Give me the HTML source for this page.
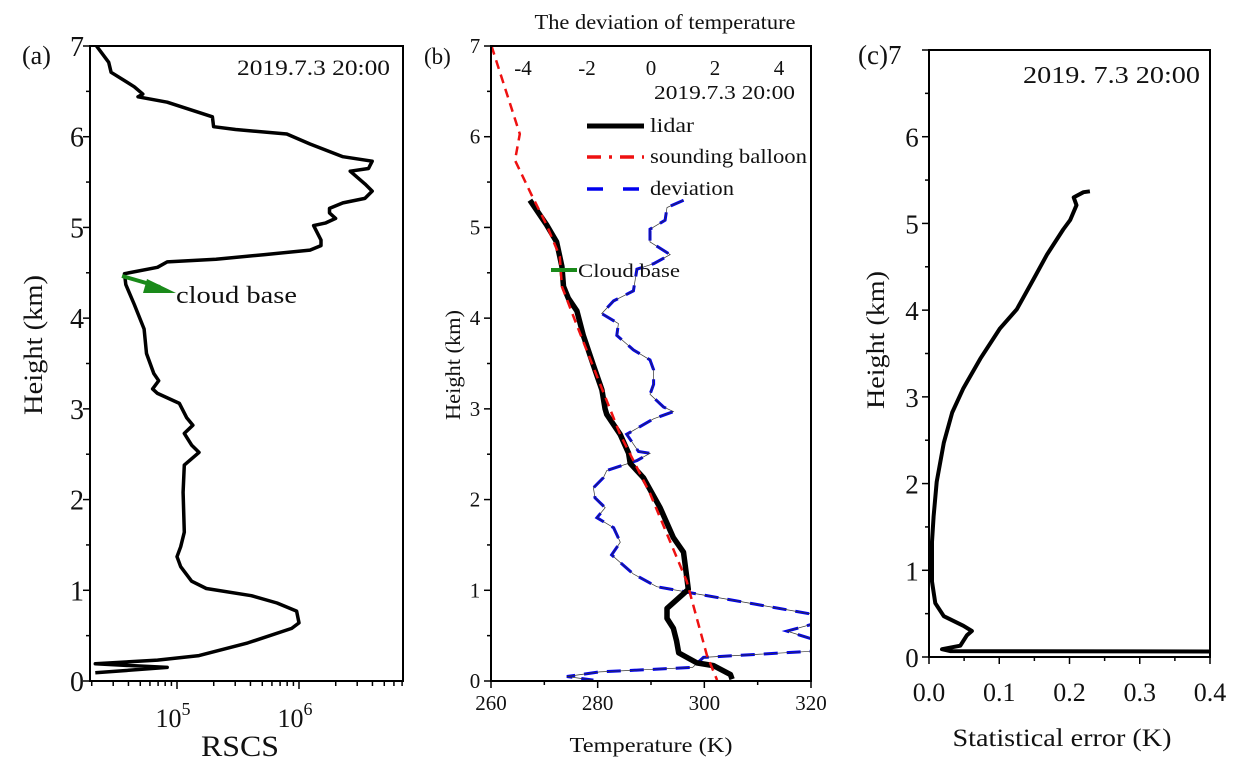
<!DOCTYPE html>
<html><head><meta charset="utf-8"><style>
body{margin:0;background:#fff;}
svg{display:block;font-family:"Liberation Serif",serif;}
</style></head><body>
<svg id="chart" width="1237" height="773" viewBox="0 0 1237 773"></svg>
<script>
// ---------- data ----------
// Panel (a): RSCS (log10) vs height (km)
const rscsLog = [4.34,4.44,4.46,4.65,4.72,4.68,4.92,5.29,5.30,5.48,5.90,6.09,6.36,6.60,6.57,6.42,6.54,6.60,6.54,6.36,6.25,6.25,6.30,6.22,6.12,6.18,6.18,6.09,5.72,5.32,4.92,4.84,4.57,4.58,4.65,4.73,4.75,4.81,4.85,4.80,4.84,5.02,5.08,5.13,5.06,5.12,5.18,5.06,5.05,5.06,5.03,5.00,5.03,5.12,5.24,5.61,5.82,5.98,6.00,5.94,5.58,5.18,4.84,4.33,4.92,4.33];
const rscsH = [7.0,6.82,6.71,6.55,6.47,6.44,6.38,6.22,6.11,6.08,6.03,5.92,5.78,5.73,5.65,5.62,5.48,5.40,5.32,5.27,5.21,5.16,5.10,5.05,5.02,4.86,4.80,4.75,4.70,4.65,4.62,4.56,4.49,4.37,4.15,3.88,3.61,3.39,3.31,3.22,3.17,3.06,2.90,2.82,2.73,2.60,2.52,2.38,2.08,1.64,1.48,1.37,1.26,1.10,1.02,0.94,0.86,0.77,0.64,0.58,0.42,0.28,0.23,0.19,0.15,0.09];
// Panel (b)
const lidarT = [267.3,270.4,272.3,273.3,273.6,274.5,276.1,277.3,279.2,280.8,281.4,281.7,284.2,285.8,286.1,288.6,291.7,294.2,296.1,296.7,297.0,295.5,293.0,293.0,294.2,294.8,295.2,298.6,301.7,304.9,305.2];
const lidarH = [5.30,5.03,4.84,4.57,4.35,4.22,4.08,3.81,3.48,3.21,3.00,2.94,2.72,2.51,2.40,2.24,1.91,1.58,1.42,1.15,1.01,0.93,0.80,0.69,0.58,0.44,0.31,0.20,0.17,0.07,0.02];
const balloonT = [260.1,265.4,264.5,267.6,270.4,272.9,273.3,276.1,279.8,284.2,289.8,296.7,300.5,302.4];
const balloonH = [7.0,6.03,5.74,5.36,5.03,4.68,4.35,3.92,3.37,2.72,2.07,1.10,0.28,0.01];
const devT = [1.02,0.50,0.44,-0.03,-0.03,0.60,0.08,-0.44,-0.55,-1.17,-1.54,-1.02,-1.07,-0.55,-0.03,0.08,0.08,-0.03,0.39,0.70,0.08,-0.76,-0.39,-0.03,-0.44,-1.38,-1.49,-1.80,-1.75,-1.43,-1.69,-1.17,-0.96,-1.23,-0.55,0.18,1.43,3.21,4.98,5.6,4.25,5.6,5.6,1.64,1.3,-1.6,-2.63,-1.8];
const devH = [5.30,5.22,5.08,4.98,4.84,4.70,4.60,4.54,4.30,4.19,4.05,3.94,3.81,3.65,3.54,3.43,3.27,3.16,3.02,2.97,2.89,2.72,2.53,2.51,2.43,2.32,2.24,2.13,2.02,1.91,1.80,1.69,1.53,1.39,1.18,1.04,0.96,0.85,0.74,0.68,0.55,0.40,0.34,0.26,0.15,0.10,0.05,0.01];
// Panel (c)
const errX = [0.40,0.03,0.0185,0.0445,0.054,0.061,0.049,0.021,0.009,0.0043,0.0043,0.0066,0.011,0.021,0.033,0.049,0.073,0.101,0.125,0.149,0.168,0.191,0.201,0.210,0.206,0.220,0.229];
const errH = [0.063,0.068,0.09,0.13,0.25,0.30,0.36,0.47,0.62,0.87,1.33,1.62,2.02,2.47,2.82,3.10,3.44,3.79,4.01,4.36,4.64,4.93,5.04,5.21,5.30,5.36,5.37];
const heightTicks = [0,1,2,3,4,5,6,7];
const tempTicks = [260,280,300,320];
const devTicks = [-4,-2,0,2,4];
const errTicks = [0.0,0.1,0.2,0.3,0.4];

// ---------- helpers ----------
const svg = document.getElementById('chart');
const NS = 'http://www.w3.org/2000/svg';
function mk(tag, attrs, parent){const e=document.createElementNS(NS,tag);for(const k in attrs)e.setAttribute(k,attrs[k]);(parent||svg).appendChild(e);return e;}
function txt(s,x,y,size,anchor,parent,len){const t=mk('text',{x:x,y:y,'font-size':size,'text-anchor':anchor||'middle',fill:'#111'},parent);t.textContent=s;if(len){t.setAttribute('textLength',len);t.setAttribute('lengthAdjust','spacingAndGlyphs');}return t;}
function pathFrom(xs,ys,fx,fy){return xs.map((v,i)=>(i?'L':'M')+fx(v).toFixed(1)+','+fy(ys[i]).toFixed(1)).join(' ');}

// ---------- Panel A ----------
const A={l:90,r:403,t:46,b:681};
const ayA=h=>A.b-(A.b-A.t)*h/7;
const axA=lg=>177+(lg-5)*122;
const gA=mk('g',{});


const clipA=mk('clipPath',{id:'ca'},gA);mk('rect',{x:A.l,y:A.t,width:A.r-A.l,height:A.b-A.t},clipA);
let pa=mk('path',{d:pathFrom(rscsLog,rscsH,axA,ayA),fill:'none',stroke:'#000','stroke-width':3.5,'stroke-linejoin':'round','clip-path':'url(#ca)'},gA);


mk('rect',{x:A.l,y:A.t,width:A.r-A.l,height:A.b-A.t,fill:'none',stroke:'#000','stroke-width':2},gA);
for(let h=0;h<=7;h+=0.5){const y=ayA(h);mk('line',{x1:A.l-(h%1?4:7),x2:A.l,y1:y,y2:y,stroke:'#000','stroke-width':1.5},gA);}
heightTicks.forEach(h=>{const t=txt(String(h),A.l-13,ayA(h)+10,28,'middle',gA);});
for(let d=4;d<=6;d++)for(let m=1;m<10;m++){const lg=d+Math.log10(m);const x=axA(lg);if(x<A.l||x>A.r)continue;mk('line',{x1:x,x2:x,y1:A.b,y2:A.b+(m===1?8:5),stroke:'#000','stroke-width':1.5},gA);}
[5,6].forEach(d=>{const t=mk('text',{x:axA(d)-4,y:727,'font-size':26,'text-anchor':'middle',fill:'#111'},gA);t.textContent='10';const s=mk('tspan',{dy:-12,'font-size':18},t);s.textContent=String(d);});
let ta=txt('RSCS',240,756,30,'middle',gA,78);
let tya=txt('Height (km)',0,0,26,'middle',gA,140);tya.setAttribute('transform','translate(42,345) rotate(-90)');
let la=txt('(a)',22,64,26,'start',gA);
let da=txt('2019.7.3 20:00',237,75,22,'start',gA,153);
// cloud base arrow
mk('line',{x1:122,y1:276,x2:160,y2:287,stroke:'#1a8a1a','stroke-width':4},gA);
mk('polygon',{points:'176,293 147,279 143,293',fill:'#1a8a1a'},gA);
let cb=txt('cloud base',176,303,24,'start',gA,121);

// ---------- Panel B ----------
const B={l:491,r:811,t:46,b:681};
const ayB=h=>B.b-(B.b-B.t)*h/7;
const axB=T=>B.l+(T-260)*(B.r-B.l)/60;
const axD=d=>B.l+(d+5)*(B.r-B.l)/10;
const gB=mk('g',{});


const clipB=mk('clipPath',{id:'cb'},gB);mk('rect',{x:B.l,y:B.t,width:B.r-B.l,height:B.b-B.t},clipB);
let dv=mk('path',{d:pathFrom(devT,devH,axD,ayB),fill:'none',stroke:'#0000ee','stroke-width':3,'stroke-dasharray':'14 9','clip-path':'url(#cb)'},gB);


mk('path',{d:pathFrom(devT,devH,axD,ayB),fill:'none',stroke:'#333','stroke-width':0.7,'clip-path':'url(#cb)'},gB);
let li=mk('path',{d:pathFrom(lidarT,lidarH,axB,ayB),fill:'none',stroke:'#000','stroke-width':5.5,'stroke-linejoin':'round','clip-path':'url(#cb)'},gB);


let bl=mk('path',{d:pathFrom(balloonT,balloonH,axB,ayB),fill:'none',stroke:'#ee1111','stroke-width':2.5,'stroke-dasharray':'9 6','clip-path':'url(#cb)'},gB);


mk('rect',{x:B.l,y:B.t,width:B.r-B.l,height:B.b-B.t,fill:'none',stroke:'#000','stroke-width':2},gB);
for(let h=0;h<=7;h+=0.5){const y=ayB(h);mk('line',{x1:B.l-(h%1?4:7),x2:B.l,y1:y,y2:y,stroke:'#000','stroke-width':1.5},gB);}
heightTicks.forEach(h=>{const t=txt(String(h),B.l-16,ayB(h)+7,21,'middle',gB);});
for(let T=260;T<=320;T+=10){const x=axB(T);mk('line',{x1:x,x2:x,y1:B.b,y2:B.b+(T%20?4:7),stroke:'#000','stroke-width':1.5},gB);}
tempTicks.forEach(T=>{const t=txt(String(T),axB(T),710,21,'middle',gB);});
devTicks.forEach(d=>{const t=txt(String(d),axD(d),75,21,'middle',gB);});
let tb=txt('Temperature  (K)',651,752,21,'middle',gB,163);
let ttb=txt('The deviation of temperature',665,29,21,'middle',gB,261);
let tyb=txt('Height (km)',0,0,21,'middle',gB,110);tyb.setAttribute('transform','translate(460,365) rotate(-90)');
let lb=txt('(b)',424,64,23,'start',gB);
let db=txt('2019.7.3 20:00',654,99,20,'start',gB,141);
// legend
const lg=mk('g',{},gB);
mk('line',{x1:587,x2:644,y1:126,y2:126,stroke:'#000','stroke-width':5},lg);
mk('line',{x1:587,x2:644,y1:157,y2:157,stroke:'#ee1111','stroke-width':3.5,'stroke-dasharray':'14 8 3 8'},lg);
mk('line',{x1:587,x2:644,y1:189,y2:189,stroke:'#0000ee','stroke-width':3.5,'stroke-dasharray':'16 20'},lg);
[['lidar',132,44],['sounding balloon',163,157],['deviation',195,84]].forEach(([s,y,w])=>{const t=txt(s,650,y,20,'start',lg,w);});
mk('line',{x1:551,x2:577,y1:270,y2:270,stroke:'#1a8a1a','stroke-width':4},gB);
let cb2=txt('Cloud base',578,277,19,'start',gB,102);

// ---------- Panel C ----------
const C={l:929,r:1210,t:50,b:657};
const ayC=h=>C.b-(C.b-C.t)*h/7;
const axC=v=>C.l+v*(C.r-C.l)/0.4;
const gC=mk('g',{});


const clipC=mk('clipPath',{id:'cc'},gC);mk('rect',{x:C.l,y:C.t,width:C.r-C.l,height:C.b-C.t},clipC);
let ec=mk('path',{d:pathFrom(errX,errH,axC,ayC),fill:'none',stroke:'#000','stroke-width':4,'stroke-linejoin':'round','clip-path':'url(#cc)'},gC);


mk('rect',{x:C.l,y:C.t,width:C.r-C.l,height:C.b-C.t,fill:'none',stroke:'#000','stroke-width':2},gC);
for(let h=0;h<=7;h+=0.5){const y=ayC(h);mk('line',{x1:C.l-(h%1?4:7),x2:C.l,y1:y,y2:y,stroke:'#000','stroke-width':1.5},gC);}
heightTicks.forEach(h=>{if(h===7)return;const t=txt(String(h),C.l-17,ayC(h)+10,27,'middle',gC);});
for(let v=0;v<=0.4001;v+=0.05){const x=axC(v);mk('line',{x1:x,x2:x,y1:C.b,y2:C.b+(Math.round(v*100)%10?4:7),stroke:'#000','stroke-width':1.5},gC);}
errTicks.forEach(v=>{const t=txt(v.toFixed(1),axC(v),701,26,'middle',gC);});
let tc=txt('Statistical error (K)',1062,746,25,'middle',gC,219);
let tyc=txt('Height (km)',0,0,25,'middle',gC,138);tyc.setAttribute('transform','translate(884,340) rotate(-90)');
let lc=txt('(c)7',858,64,27,'start',gC);
let dc=txt('2019. 7.3 20:00',1023,83,24,'start',gC,177);
</script>
</body></html>
